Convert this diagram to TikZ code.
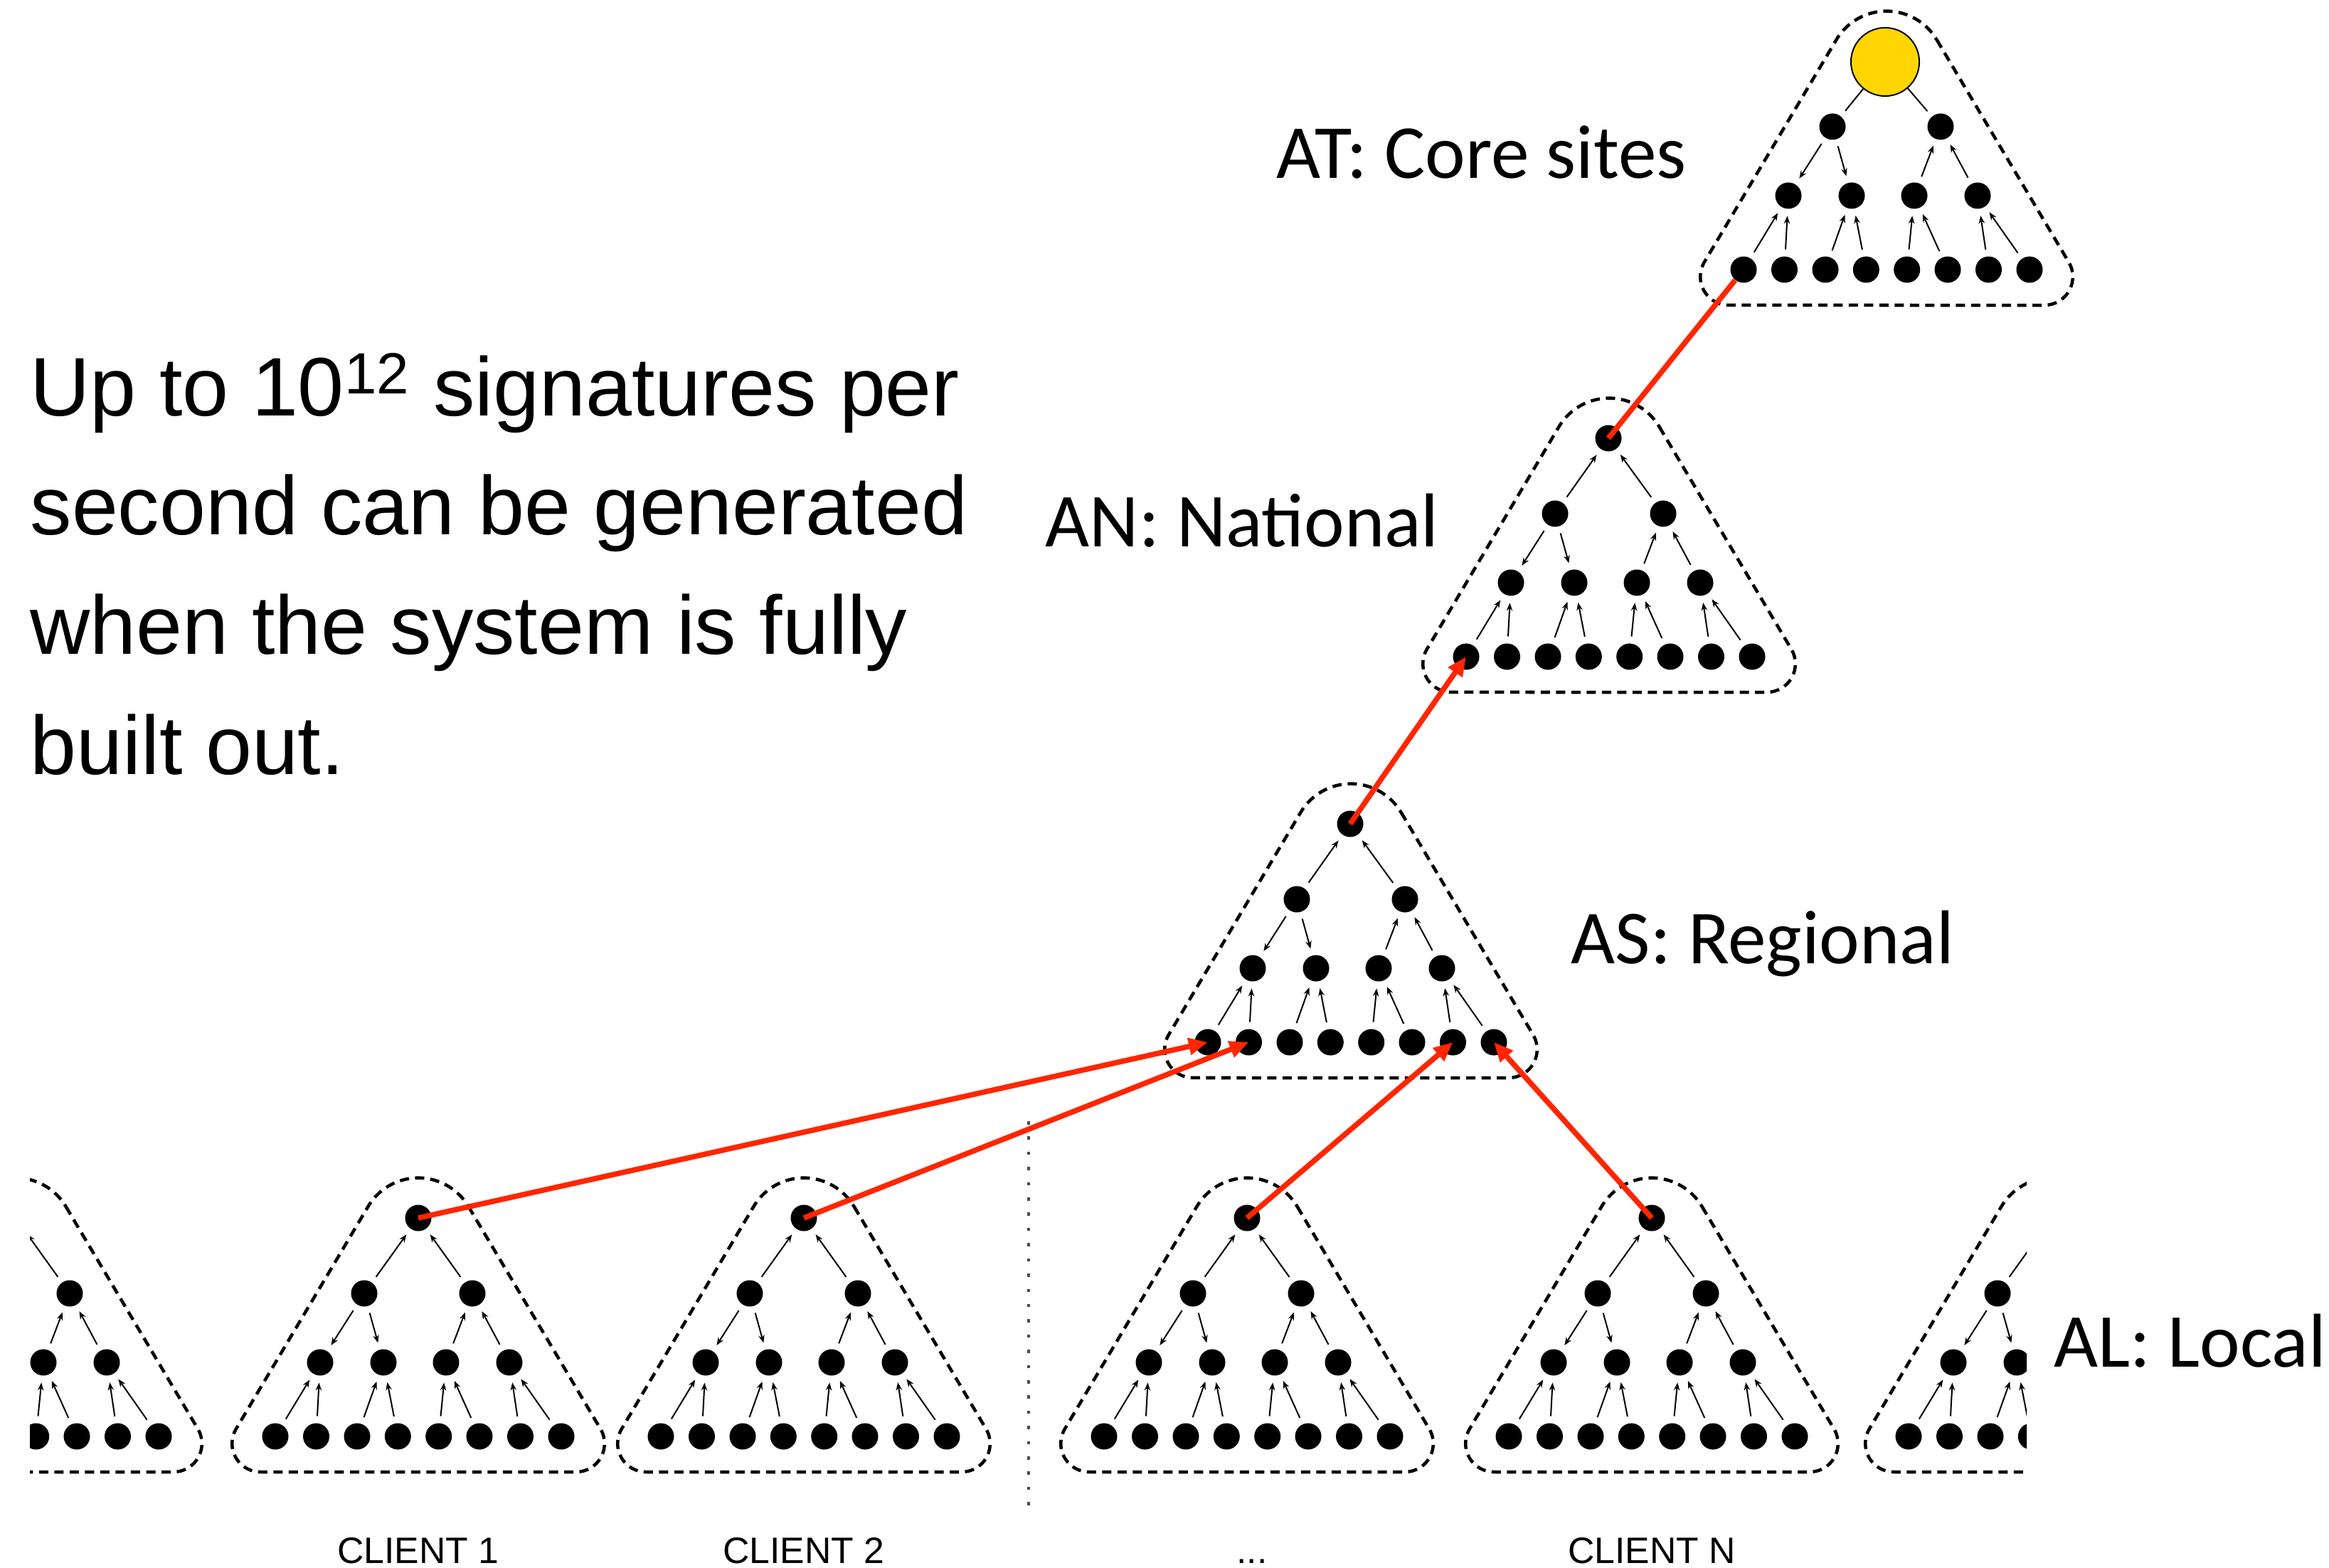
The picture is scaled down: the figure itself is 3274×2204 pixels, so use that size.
\documentclass[tikz,border=0pt]{standalone}
\usepackage{fontspec}
\usepackage{graphicx}
\setmainfont{Liberation Sans}
\newfontfamily\calibrifont{Carlito}
\usetikzlibrary{arrows.meta}

\definecolor{signalred}{RGB}{255,38,0}
\definecolor{coregold}{RGB}{255,214,0}
\definecolor{dotgray}{RGB}{75,75,85}

% Dashed rounded triangle around one tree; #1 = centre x, #2 = root y
\newcommand\hull[2]{%
  \draw[hullline] ({#1+70.5},{#2-16.2}) -- ({#1+256.2},{#2+296.6})
    arc[start angle=-30.7, end angle=90, radius=40]
    -- ({#1-221.8},{#2+357})
    arc[start angle=90, end angle=210.7, radius=40]
    -- ({#1-70.5},{#2-16.2})
    arc[start angle=210.7, end angle=329.3, radius=82] -- cycle;}

% Levels below the root of one tree; #1 = prefix, #2 = centre x, #3 = root y,
% #4 = style of the two links into the root node (#1-r)
\newcommand\treebody[4]{%
  \node[dot] (#1-a1) at ({#2-76},{#3+106}) {};
  \node[dot] (#1-a2) at ({#2+76},{#3+106}) {};
  \node[dot] (#1-m1) at ({#2-138},{#3+203}) {};
  \node[dot] (#1-m2) at ({#2-49},{#3+203}) {};
  \node[dot] (#1-m3) at ({#2+39},{#3+203}) {};
  \node[dot] (#1-m4) at ({#2+128},{#3+203}) {};
  \foreach \k/\xo in {1/-201,2/-143.5,3/-86,4/-28.7,5/28.7,6/86,7/143.5,8/201}
    \node[dot] (#1-b\k) at ({#2+\xo},{#3+307}) {};
  \draw[#4] (#1-a1) -- (#1-r);
  \draw[#4] (#1-a2) -- (#1-r);
  \draw[link] (#1-a1) -- (#1-m1);
  \draw[link] (#1-a1) -- (#1-m2);
  \draw[link] (#1-m3) -- (#1-a2);
  \draw[link] (#1-m4) -- (#1-a2);
  \draw[link] (#1-b1) -- (#1-m1);
  \draw[link] (#1-b2) -- (#1-m1);
  \draw[link] (#1-b3) -- (#1-m2);
  \draw[link] (#1-b4) -- (#1-m2);
  \draw[link] (#1-b5) -- (#1-m3);
  \draw[link] (#1-b6) -- (#1-m3);
  \draw[link] (#1-b7) -- (#1-m4);
  \draw[link] (#1-b8) -- (#1-m4);}

\begin{document}
\begin{tikzpicture}[x=0.01cm, y=-0.01cm,
  dot/.style={circle, fill=black, inner sep=0pt, minimum size=0.37cm, outer sep=0.1cm},
  coredot/.style={circle, fill=coregold, draw=black, line width=0.02cm, inner sep=0pt,
    minimum size=0.96cm, outer sep=0pt},
  link/.style={line width=0.02cm, -{Stealth[length=0.11cm, width=0.085cm]}},
  plainlink/.style={line width=0.02cm},
  hullline/.style={line width=0.045cm, dash pattern=on 0.13cm off 0.085cm},
  uplink/.style={line width=0.075cm, signalred, -{Triangle[length=0.27cm, width=0.23cm]}},
  upline/.style={line width=0.075cm, signalred},
  divider/.style={line width=0.045cm, dotgray, dash pattern=on 0.045cm off 0.169cm},
  tier/.style={font=\calibrifont\fontsize{30.5}{36}\selectfont, inner sep=0pt, anchor=base west},
  blurb/.style={font=\fontsize{33.2}{40}\selectfont, inner sep=0pt, anchor=base west},
  client/.style={font=\fontsize{14.7}{18}\selectfont, inner sep=0pt, anchor=base}]

\useasboundingbox (0,0) rectangle (3274,2204);

% core tier
\hull{2652}{72}
\node[coredot] (at-r) at (2650,87) {};
\treebody{at}{2652}{72}{plainlink}

% national tier
\hull{2262}{616}
\node[dot] (an-r) at (2261,616) {};
\treebody{an}{2262}{616}{link}

% regional tier
\hull{1899}{1158}
\node[dot] (as-r) at (1898,1158) {};
\treebody{as}{1899}{1158}{link}

% local tier
\begin{scope}
  \clip (42,1500) rectangle (800,2204);
  \hull{22}{1712}
  \node[dot] (cl-r) at (22,1712) {};
  \treebody{cl}{22}{1712}{link}
\end{scope}

\hull{588}{1712}
\node[dot] (c1-r) at (588,1712) {};
\treebody{c1}{588}{1712}{link}

\hull{1130}{1712}
\node[dot] (c2-r) at (1130,1712) {};
\treebody{c2}{1130}{1712}{link}

\hull{1753}{1712}
\node[dot] (c3-r) at (1753,1712) {};
\treebody{c3}{1753}{1712}{link}

\hull{2322}{1712}
\node[dot] (cn-r) at (2322,1712) {};
\treebody{cn}{2322}{1712}{link}

\begin{scope}
  \clip (2400,1500) rectangle (2849,2204);
  \hull{2884}{1712}
  \node[dot] (cr-r) at (2884,1712) {};
  \treebody{cr}{2884}{1712}{link}
\end{scope}

% separator between client groups
\coordinate (div-top) at (1446,1576);
\coordinate (div-bot) at (1446,2131);
\draw[divider] (div-top) -- (div-bot);

% aggregation paths between tiers
\draw[uplink] (c1-r.center) -- (as-b1.center);
\draw[uplink] (c2-r.center) -- (as-b2.center);
\draw[uplink] (c3-r.center) -- (as-b7.center);
\draw[uplink] (cn-r.center) -- (as-b8.center);
\draw[uplink] (as-r.center) -- (an-b1.center);
\draw[upline, shorten >=0.19cm] (an-r.center) -- (at-b1.center);

% tier labels
\node[tier] (lbl-at) at (1794,251) {AT: Core sites};
\node[tier] (lbl-an) at (1469,769) {AN: National};
\node[tier] (lbl-as) at (2208,1355) {AS: Regional};
\node[tier] (lbl-al) at (2887,1922) {AL: Local};

% explanatory text
\node[blurb] (txt1) at (42,585) {Up to 10\textsuperscript{12} signatures per};
\node[blurb] (txt2) at (42,752) {second can be generated};
\node[blurb] (txt3) at (42,920) {when the system is fully};
\node[blurb] (txt4) at (42,1089) {built out.};

% client captions
\node[client] (cap1) at (588,2197) {CLIENT 1};
\node[client] (cap2) at (1130,2197) {CLIENT 2};
\node[client] (cap3) at (1760,2197) {...};
\node[client] (capn) at (2322,2197) {CLIENT N};
\end{tikzpicture}
\end{document}
